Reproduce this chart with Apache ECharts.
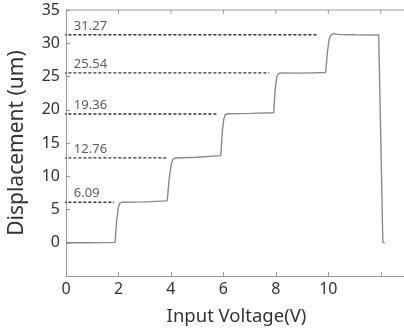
<!DOCTYPE html>
<html><head><meta charset="utf-8">
<script src="https://cdn.jsdelivr.net/npm/echarts@6/dist/echarts.min.js"></script>
<style>html,body{margin:0;padding:0;background:#fff}#c{width:404px;height:329px}</style>
</head><body><div id="c"></div>
<script>
// Measured displacement curve (voltage, displacement)
const voltage = [0, 0.8, 1.87, 1.93, 2.0, 2.06, 2.15, 3.0, 3.86, 3.93, 4.02, 4.08, 4.18, 5.0, 5.9, 5.96, 6.02, 6.07, 6.17, 7.0, 7.92, 7.97, 8.04, 8.1, 8.2, 9.0, 9.9, 9.96, 10.03, 10.1, 10.2, 10.44, 11.0, 11.92, 12.08, 12.15];
const displacement = [0, 0, 0.05, 3.2, 5.4, 6.0, 6.1, 6.15, 6.3, 9.5, 12.0, 12.55, 12.75, 12.85, 13.1, 16.8, 18.7, 19.25, 19.4, 19.45, 19.55, 23.0, 25.0, 25.45, 25.55, 25.5, 25.6, 28.5, 30.6, 31.25, 31.45, 31.3, 31.27, 31.25, 0.05, 0];
// Step levels (dashed reference lines), their labels and where each dashed line ends
const levels = [31.27, 25.54, 19.36, 12.76, 6.09];
const levelLabels = ['31.27', '25.54', '19.36', '12.76', '6.09'];
const levelEnds = [9.6, 7.75, 5.76, 3.84, 1.84];
const xTicks = ['0', '2', '4', '6', '8', '10'];
const xTickValues = [2, 4, 6, 8, 10, 12];
const xMin = 0, xMax = 13, yMin = -5, yMax = 35;

const font = 'Noto Sans';
const axisGray = '#999';
const curve = voltage.map((v, i) => [v, displacement[i]]);
const series = [{
  type: 'line', data: curve, symbol: 'none',
  lineStyle: {color: '#8a8a8a', width: 1.4}, z: 3
}];
// top frame line, drawn as a plain line series on the axes' scale
series.push({
  type: 'line', symbol: 'none', clip: false, z: 5, silent: true,
  lineStyle: {color: axisGray, width: 1.2, type: 'solid'},
  data: [[xMin, yMax], [xMax, yMax]]
});
// inward ticks on the top frame
xTickValues.forEach(t => {
  series.push({
    type: 'line', symbol: 'none', clip: false, z: 5, silent: true,
    lineStyle: {color: axisGray, width: 1, type: 'solid'},
    data: [[t, yMax], [t, yMax - 0.6]]
  });
});
levels.forEach((lv, i) => {
  series.push({
    type: 'line', symbol: 'none', z: 2,
    lineStyle: {color: '#333', width: 1.4, type: [3, 2]},
    data: [[-0.1, lv], [levelEnds[i], lv]]
  });
});
series.push({
  type: 'scatter', symbolSize: 0, z: 4,
  data: levels.map((lv, i) => ({value: [0.3, lv], name: levelLabels[i]})),
  label: {show: true, formatter: p => p.name, position: [0, -15], align: 'left',
    fontSize: 13, color: '#333', fontFamily: font}
});

const chart = echarts.init(document.getElementById('c'));
chart.setOption({
  animation: false,
  grid: {left: 66, right: -3, top: 10, bottom: 53, containLabel: false, outerBoundsMode: 'none'},
  xAxis: {
    type: 'value', min: xMin, max: xMax, interval: 2,
    name: 'Input Voltage(V)', nameLocation: 'middle', nameGap: 31,
    nameTextStyle: {fontSize: 18.5, color: '#333', fontFamily: font},
    axisLine: {onZero: false, lineStyle: {color: axisGray}},
    axisTick: {inside: true, length: 4, lineStyle: {color: axisGray}},
    splitLine: {show: false},
    axisLabel: {fontSize: 16, color: '#333', fontFamily: font, margin: 5,
      formatter: v => xTicks.includes(String(v)) ? String(v) : ''}
  },
  yAxis: {
    type: 'value', min: yMin, max: yMax, interval: 5,
    name: 'Displacement (um)', nameLocation: 'middle', nameGap: 38,
    nameTextStyle: {fontSize: 21, color: '#333', fontFamily: font},
    axisLine: {show: true, onZero: false, lineStyle: {color: axisGray}},
    axisTick: {inside: true, length: 4, lineStyle: {color: axisGray}},
    splitLine: {show: false},
    axisLabel: {fontSize: 16, color: '#333', fontFamily: font, margin: 6,
      formatter: v => v < 0 ? '' : String(v)}
  },
  series: series
});
</script></body></html>
